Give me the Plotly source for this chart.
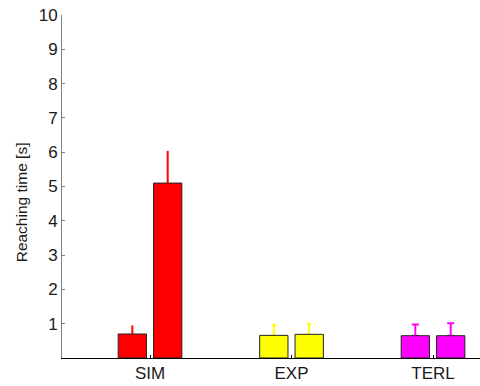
import plotly.graph_objects as go

categories = ["SIM", "EXP", "TERL"]
series1 = [0.70, 0.66, 0.65]
series2 = [5.10, 0.69, 0.65]
err1 = [0.25, 0.31, 0.33]
err2 = [0.94, 0.31, 0.36]
y_ticks = [1, 2, 3, 4, 5, 6, 7, 8, 9, 10]

colors = ["#ff0000", "#ffff00", "#ff00ff"]
cap_widths = [0, 2, 3.5]
FONT = "Liberation Sans, Arial, Helvetica, sans-serif"

fig = go.Figure()

# error bars first (on hidden bars) so visible bars cover the lower end
for vals, errs, off in ((series1, err1, -0.225), (series2, err2, 0.025)):
    for i, cat in enumerate(categories):
        fig.add_trace(go.Bar(
            x=[cat], y=[vals[i]], offset=off, width=0.2,
            marker=dict(color="rgba(0,0,0,0)", line=dict(width=0)),
            error_y=dict(type="data", symmetric=False, array=[errs[i]],
                         arrayminus=[0], color=colors[i], thickness=2,
                         width=cap_widths[i]),
            showlegend=False, hoverinfo="skip",
        ))

for vals, off in ((series1, -0.225), (series2, 0.025)):
    fig.add_trace(go.Bar(
        x=categories, y=vals, offset=off, width=0.2,
        marker=dict(color=colors, line=dict(color="#222222", width=1)),
        showlegend=False,
    ))

fig.update_layout(
    width=480, height=386,
    margin=dict(l=62, r=0, t=15, b=28),
    paper_bgcolor="white", plot_bgcolor="white",
    barmode="overlay",
    font=dict(family=FONT, size=17, color="#1a1a1a"),
    xaxis=dict(
        type="category", range=[-0.622, 2.332],
        showline=True, linecolor="black", linewidth=1,
        ticks="inside", ticklen=3, tickcolor="black",
        tickfont=dict(size=17), showgrid=False, zeroline=False,
    ),
    yaxis=dict(
        range=[0, 10], tickvals=y_ticks,
        showline=True, linecolor="#808080", linewidth=1,
        ticks="inside", ticklen=3, tickcolor="#808080",
        tickfont=dict(size=17), showgrid=False, zeroline=False,
    ),
    annotations=[dict(
        text="Reaching time [s]", textangle=-90,
        xref="paper", yref="paper", x=-0.098, y=0.454,
        xanchor="center", yanchor="middle", showarrow=False,
        font=dict(size=15.5, family=FONT),
    )],
)

fig.write_html("out.html")
